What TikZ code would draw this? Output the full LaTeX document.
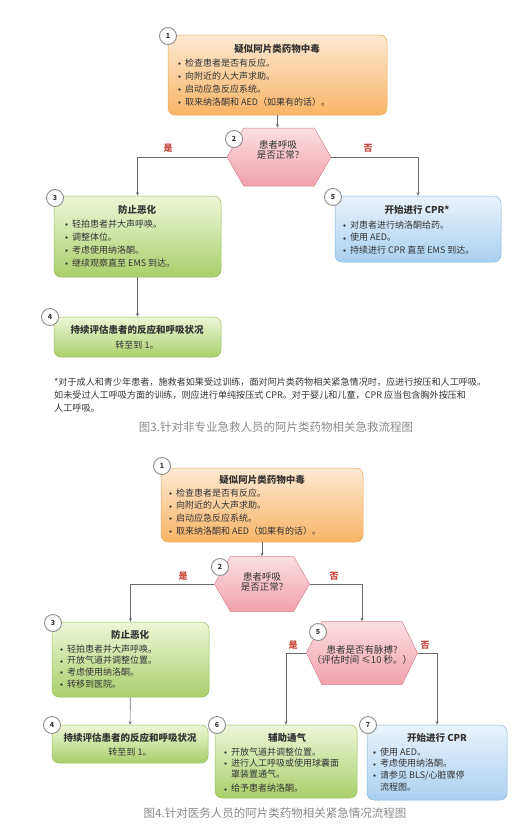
\documentclass[tikz,border=0pt]{standalone}
\usepackage{fontspec}
\setmainfont{Noto Sans CJK SC}
\usetikzlibrary{shapes.symbols, arrows.meta}
\definecolor{linegray}{HTML}{6A6A6A}
\definecolor{textgray}{HTML}{333333}
\definecolor{capgray}{HTML}{8A8A8A}
\definecolor{numline}{HTML}{8C8C8C}
\definecolor{answerred}{HTML}{C8453A}
\definecolor{orangetop}{HTML}{FDE9D2}
\definecolor{orangebot}{HTML}{F8B466}
\definecolor{orangeline}{HTML}{E8A95A}
\definecolor{greentop}{HTML}{EEF6D8}
\definecolor{greenbot}{HTML}{A9CF6B}
\definecolor{greenline}{HTML}{98BD5E}
\definecolor{bluetop}{HTML}{EAF3FC}
\definecolor{bluebot}{HTML}{A9D0F0}
\definecolor{blueline}{HTML}{86B3DB}
\definecolor{pinktop}{HTML}{FBDEE2}
\definecolor{pinkbot}{HTML}{F0A1AB}
\definecolor{pinkline}{HTML}{D8848F}
\newcommand\itm{\makebox[7pt][l]{\raisebox{0.7pt}{\scalebox{0.65}{$\bullet$}}}}
\newcommand\cnt{\hspace*{7pt}}
\tikzset{
  >={Stealth[length=3.6pt, width=3pt]},
  wire/.style  ={draw=linegray, line width=0.6pt},
  box/.style   ={draw, rounded corners=7pt, line width=0.5pt, inner sep=0pt},
  orangebox/.style={box, draw=orangeline, top color=orangetop, bottom color=orangebot},
  greenbox/.style ={box, draw=greenline, top color=greentop, bottom color=greenbot},
  bluebox/.style  ={box, draw=blueline, top color=bluetop, bottom color=bluebot},
  decide/.style={signal, signal to=west and east, signal pointer angle=120,
                 draw=pinkline, top color=pinktop, bottom color=pinkbot,
                 line width=0.5pt, inner sep=0pt},
  num/.style   ={circle, draw=numline, fill=white, line width=0.9pt, minimum size=17pt,
                 inner sep=0pt, text=textgray, font=\bfseries\fontsize{7}{8}\selectfont},
  head/.style  ={inner sep=0pt, text=textgray, font=\bfseries\fontsize{9.5}{11}\selectfont},
  plain/.style ={inner sep=0pt, text=textgray, font=\fontsize{9}{11}\selectfont},
  ask/.style   ={inner sep=0pt, align=center, text=textgray, font=\fontsize{9.5}{10.5}\selectfont},
  list/.style  ={inner sep=0pt, align=left, anchor=north west, text=textgray},
  yesno/.style ={inner sep=0pt, text=answerred, font=\bfseries\fontsize{9}{10}\selectfont},
  caption/.style={inner sep=0pt, text=capgray, font=\fontsize{11.5}{13}\selectfont},
}

\begin{document}
\begin{tikzpicture}[x=1pt, y=-1pt]
  \useasboundingbox[fill=white] (0,0) rectangle (526,835);

  % --- figure 3: lay rescuers ------------------------------------------------
  \node[orangebox, minimum width=219pt, minimum height=80pt] (a1) at (277.5,75) {};
  \node[decide, minimum width=104pt, minimum height=58pt] (a2) at (279,157) {};
  \node[greenbox, minimum width=167pt, minimum height=81pt] (a3) at (137.5,236.5) {};
  \node[greenbox, minimum width=167pt, minimum height=40pt] (a4) at (137.5,337) {};
  \node[bluebox, minimum width=166pt, minimum height=66pt] (a5) at (418,229) {};

  \node[head] (a1t) at (277,49) {疑似阿片类药物中毒};
  \node[list, font=\fontsize{9}{13}\selectfont] (a1l) at (178,58.5)
    {\itm 检查患者是否有反应。\\ \itm 向附近的人大声求助。\\
     \itm 启动应急反应系统。\\ \itm 取来纳洛酮和 AED（如果有的话）。};
  \node[ask] (a2t) at (278,150) {患者呼吸\\是否正常?};
  \node[head] (a3t) at (137,210) {防止恶化};
  \node[list, font=\fontsize{9}{13}\selectfont] (a3l) at (65,219.5)
    {\itm 轻拍患者并大声呼唤。\\ \itm 调整体位。\\
     \itm 考虑使用纳洛酮。\\ \itm 继续观察直至 EMS 到达。};
  \node[head] (a4t) at (137,330) {持续评估患者的反应和呼吸状况};
  \node[plain] (a4s) at (137,345) {转至到 1。};
  \node[head] (a5t) at (417,210) {开始进行 CPR*};
  \node[list, font=\fontsize{9}{12.5}\selectfont] (a5l) at (343,220.5)
    {\itm 对患者进行纳洛酮给药。\\ \itm 使用 AED。\\ \itm 持续进行 CPR 直至 EMS 到达。};

  \node[yesno] (ayes) at (168,148) {是};
  \node[yesno] (ano)  at (368,148) {否};

  \draw[wire,->] (a1) -- (a1 |- a2.north);
  \draw[wire,->] (a2.west) -| (a3.north);
  \draw[wire,->] (a2.east) -| (a5.north);
  \draw[wire,->] (a3) -- (a4);

  \node[num] (na1) at (168,36)  {1};
  \node[num] (na2) at (234,139) {2};
  \node[num] (na3) at (55,198)  {3};
  \node[num] (na4) at (50,317)  {4};
  \node[num] (na5) at (333,197) {5};

  \node[list, font=\fontsize{9.1}{13}\selectfont] (fa) at (54,377.5)
    {*对于成人和青少年患者，施救者如果受过训练，面对阿片类药物相关紧急情况时，应进行按压和人工呼吸。\\
     如未受过人工呼吸方面的训练，则应进行单纯按压式 CPR。对于婴儿和儿童，CPR 应当包含胸外按压和\\
     人工呼吸。};
  \node[caption] (ca) at (276,427) {图3.针对非专业急救人员的阿片类药物相关急救流程图};

  % --- figure 4: health care providers --------------------------------------
  \node[orangebox, minimum width=202pt, minimum height=74pt] (b1) at (262,505) {};
  \node[decide, minimum width=95pt, minimum height=55pt] (b2) at (262,584) {};
  \node[greenbox, minimum width=157pt, minimum height=75pt] (b3) at (130.5,659.5) {};
  \node[greenbox, minimum width=156pt, minimum height=38pt] (b4) at (130,744) {};
  \node[decide, minimum width=111pt, minimum height=63pt, signal pointer angle=128] (b5) at (362,653) {};
  \node[greenbox, minimum width=142pt, minimum height=73pt] (b6) at (286,761.5) {};
  \node[bluebox, minimum width=140pt, minimum height=75pt] (b7) at (437,762.5) {};

  \node[head] (b1t) at (262,480) {疑似阿片类药物中毒};
  \node[list, font=\fontsize{9}{12.6}\selectfont] (b1l) at (169,488.5)
    {\itm 检查患者是否有反应。\\ \itm 向附近的人大声求助。\\
     \itm 启动应急反应系统。\\ \itm 取来纳洛酮和 AED（如果有的话）。};
  \node[ask] (b2t) at (262,582) {患者呼吸\\是否正常?};
  \node[head] (b3t) at (130,635) {防止恶化};
  \node[list, font=\fontsize{9}{11.7}\selectfont] (b3l) at (60,644.5)
    {\itm 轻拍患者并大声呼唤。\\ \itm 开放气道并调整位置。\\
     \itm 考虑使用纳洛酮。\\ \itm 转移到医院。};
  \node[head] (b4t) at (130,738) {持续评估患者的反应和呼吸状况};
  \node[plain] (b4s) at (130,752) {转至到 1。};
  \node[ask] (b5t) at (362,655) {患者是否有脉搏?\\（评估时间 ≤10 秒。）};
  \node[head] (b6t) at (287,738) {辅助通气};
  \node[list, font=\fontsize{9}{11}\selectfont] (b6l) at (224,747.5)
    {\itm 开放气道并调整位置。\\ \itm 进行人工呼吸或使用球囊面\\
     \cnt 罩装置通气。\\[3.5pt] \itm 给予患者纳洛酮。};
  \node[head] (b7t) at (437,738) {开始进行 CPR};
  \node[list, font=\fontsize{9}{11.7}\selectfont] (b7l) at (373,747.5)
    {\itm 使用 AED。\\ \itm 考虑使用纳洛酮。\\
     \itm 请参见 BLS/心脏骤停\\ \cnt 流程图。};

  \node[yesno] (byes) at (183,576) {是};
  \node[yesno] (bno)  at (334,576) {否};
  \node[yesno] (cyes) at (293,645) {是};
  \node[yesno] (cno)  at (425,645) {否};

  \draw[wire,->] (b1) -- (b2);
  \draw[wire,->] (b2.west) -| (b3.north);
  \draw[wire,->] (b2.east) -| (b5.north);
  \draw[wire,->] (b3) -- (b4);
  \draw[wire,->] (b5.west) -| (b6.north);   % pulse present
  \draw[wire,->] (b5.east) -| (b7.north);   % no pulse

  \node[num] (nb1) at (162,466) {1};
  \node[num] (nb2) at (220,567) {2};
  \node[num] (nb3) at (53,623)  {3};
  \node[num] (nb4) at (52,725)  {4};
  \node[num] (nb5) at (318,632) {5};
  \node[num] (nb6) at (217,725) {6};
  \node[num] (nb7) at (368,725) {7};

  \node[caption] (cb) at (275,813) {图4.针对医务人员的阿片类药物相关紧急情况流程图};
\end{tikzpicture}
\end{document}
